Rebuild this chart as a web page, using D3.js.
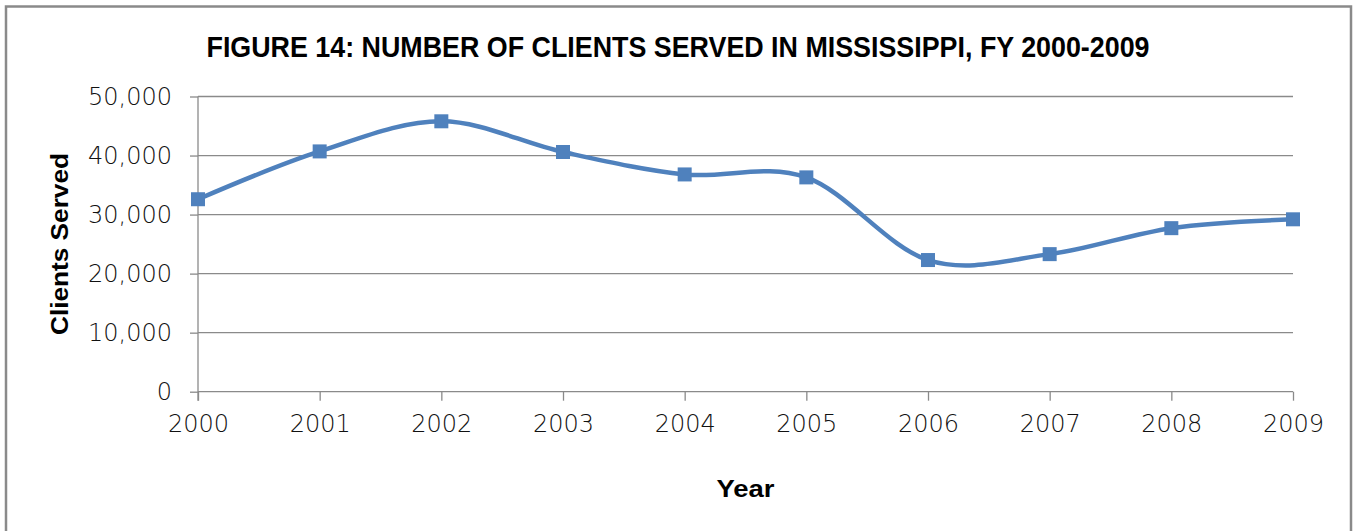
<!DOCTYPE html>
<html>
<head>
<meta charset="utf-8">
<script src="https://cdn.jsdelivr.net/npm/d3@7"></script>
<style>
  html, body { margin: 0; padding: 0; background: #fff; }
  svg { display: block; }
</style>
</head>
<body>
<svg id="chart" width="1354" height="531"></svg>
<script>
// Clients served per fiscal year
const years = ["2000", "2001", "2002", "2003", "2004", "2005", "2006", "2007", "2008", "2009"];
const clients = [32600, 40700, 45800, 40600, 36800, 36300, 22300, 23300, 27700, 29200];
const yTicks = [0, 10000, 20000, 30000, 40000, 50000];

const titleText = "FIGURE 14: NUMBER OF CLIENTS SERVED IN MISSISSIPPI, FY 2000-2009";
const xTitle = "Year";
const yTitle = "Clients Served";

const svg = d3.select("#chart");
const plot = { left: 198, right: 1293, top: 96.5, bottom: 391.7 };

const gridColor = "#8a8a8a";
const lineColor = "#4f81bd";
const tickFont = "'DejaVu Sans', sans-serif";
const boldFont = "'Liberation Sans', Arial, sans-serif";

// outer frame
svg.append("rect")
  .attr("x", 6).attr("y", 6.5)
  .attr("width", 1345).attr("height", 540)
  .attr("fill", "#fff")
  .attr("stroke", gridColor).attr("stroke-width", 2.5);

const x = d3.scalePoint().domain(years).range([plot.left, plot.right]);
const y = d3.scaleLinear().domain([0, 50000]).range([plot.bottom, plot.top]);

// horizontal gridlines
svg.append("g")
  .selectAll("line")
  .data(yTicks.filter(d => d > 0))
  .join("line")
  .attr("x1", plot.left).attr("x2", plot.right)
  .attr("y1", d => y(d)).attr("y2", d => y(d))
  .attr("stroke", gridColor).attr("stroke-width", 1.3);

// y axis
const yAxis = svg.append("g")
  .attr("transform", `translate(${plot.left},0)`)
  .call(d3.axisLeft(y).tickValues(yTicks).tickSize(8).tickPadding(18)
    .tickFormat(d3.format(",")));
yAxis.select(".domain").remove();
yAxis.selectAll(".tick line").attr("stroke", gridColor).attr("stroke-width", 1.3);
yAxis.selectAll(".tick text")
  .attr("font-family", tickFont).attr("font-weight", 200)
  .attr("font-size", 24).attr("fill", "#111");
svg.append("line")
  .attr("x1", plot.left).attr("x2", plot.left)
  .attr("y1", plot.top).attr("y2", plot.bottom + 9)
  .attr("stroke", gridColor).attr("stroke-width", 1.3);

// x axis
const xAxis = svg.append("g")
  .attr("transform", `translate(0,${plot.bottom})`)
  .call(d3.axisBottom(x).tickSize(9).tickPadding(14));
xAxis.select(".domain")
  .attr("d", `M${plot.left},0H${plot.right}`)
  .attr("stroke", gridColor).attr("stroke-width", 1.3);
xAxis.selectAll(".tick line").attr("stroke", gridColor).attr("stroke-width", 1.3);
xAxis.selectAll(".tick text")
  .attr("font-family", tickFont).attr("font-weight", 200)
  .attr("font-size", 24).attr("fill", "#111");

// smoothed series line
const line = d3.line()
  .x((d, i) => x(years[i]))
  .y(d => y(d))
  .curve(d3.curveCardinal.tension(0));
svg.append("path")
  .datum(clients)
  .attr("d", line)
  .attr("fill", "none")
  .attr("stroke", lineColor)
  .attr("stroke-width", 4.5)
  .attr("stroke-linejoin", "round");

// square markers
const ms = 14;
svg.append("g")
  .selectAll("rect")
  .data(clients)
  .join("rect")
  .attr("x", (d, i) => x(years[i]) - ms / 2)
  .attr("y", d => y(d) - ms / 2)
  .attr("width", ms).attr("height", ms)
  .attr("fill", lineColor);

// titles
svg.append("text")
  .attr("x", 678).attr("y", 57)
  .attr("text-anchor", "middle")
  .attr("font-family", boldFont).attr("font-weight", "bold")
  .attr("font-size", 30)
  .attr("textLength", 943).attr("lengthAdjust", "spacingAndGlyphs")
  .attr("fill", "#000")
  .text(titleText);

svg.append("text")
  .attr("x", (plot.left + plot.right) / 2).attr("y", 497)
  .attr("text-anchor", "middle")
  .attr("font-family", boldFont).attr("font-weight", "bold")
  .attr("font-size", 24)
  .attr("textLength", 58).attr("lengthAdjust", "spacingAndGlyphs")
  .attr("fill", "#000")
  .text(xTitle);

svg.append("text")
  .attr("transform", "translate(68,244) rotate(-90)")
  .attr("text-anchor", "middle")
  .attr("font-family", boldFont).attr("font-weight", "bold")
  .attr("font-size", 24)
  .attr("textLength", 182).attr("lengthAdjust", "spacingAndGlyphs")
  .attr("fill", "#000")
  .text(yTitle);
</script>
</body>
</html>
